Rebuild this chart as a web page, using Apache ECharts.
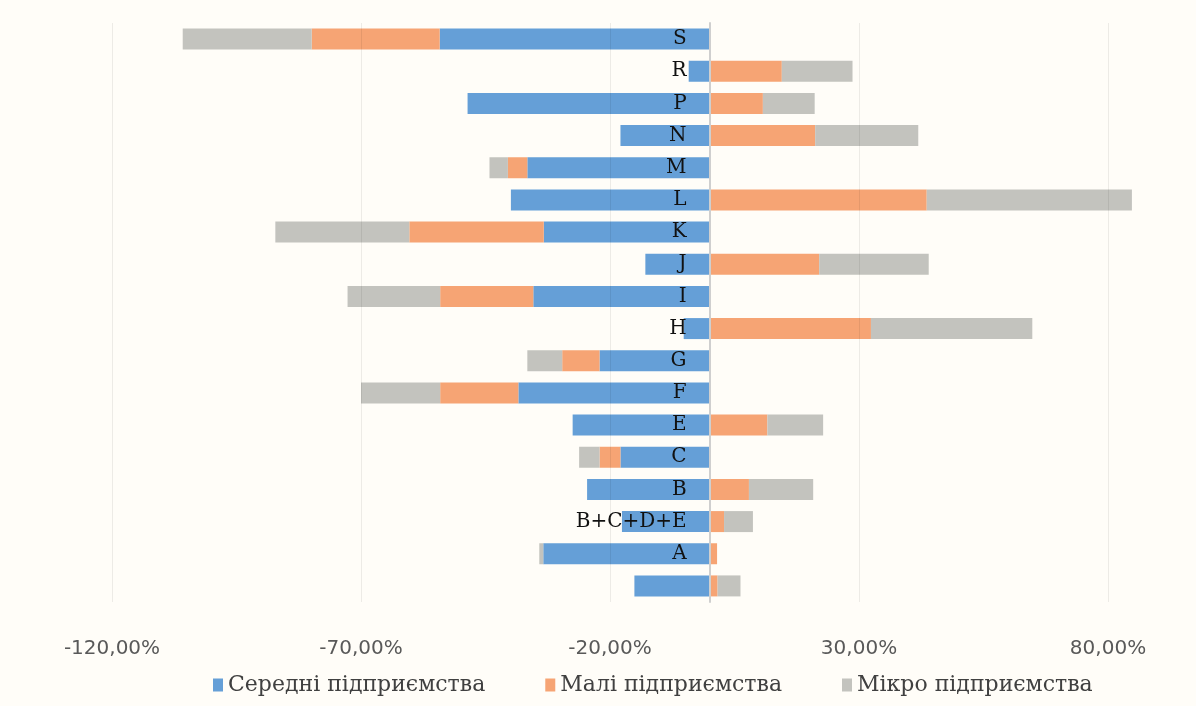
<!DOCTYPE html>
<html lang="uk">
<head>
    <meta charset="UTF-8">
    <title>Підприємства</title>
    <script src="https://cdn.jsdelivr.net/npm/echarts@6/dist/echarts.min.js"></script>
    <style>
        html, body { margin: 0; padding: 0; background: #fffdf8; }
        #main { width: 1196px; height: 706px; }
    </style>
</head>
<body>
    <div id="main"></div>
    <script>
        // категорії зверху вниз
        var categories = ['S', 'R', 'P', 'N', 'M', 'L', 'K', 'J', 'I', 'H', 'G', 'F', 'E', 'C', 'B', 'B+C+D+E', 'A', ''];
        var seriesNames = ['Середні підприємства', 'Малі підприємства', 'Мікро підприємства'];
        // значення у відсотках
        var medium = [-54.2, -4.2, -48.6, -17.9, -36.6, -39.9, -33.3, -12.9, -35.4, -5.2, -22.1, -38.4, -27.5, -17.9, -24.6, -17.6, -33.4, -15.1];
        var small = [-25.7, 14.5, 10.7, 21.2, -3.9, 43.6, -27.0, 22.0, -18.7, 32.4, -7.5, -15.7, 11.6, -4.2, 7.9, 2.9, 1.5, 1.6];
        var micro = [-25.9, 14.2, 10.4, 20.7, -3.7, 41.2, -26.9, 22.0, -18.6, 32.4, -7.0, -15.9, 11.2, -4.1, 12.9, 5.8, -0.8, 4.6];
        var colors = ['#659fd7', '#f6a474', '#c3c3be'];

        var chart = echarts.init(document.getElementById('main'));

        // сітка: ліво 112, ширина 996, нуль на 60% ширини
        var gridLeft = 112, gridRight = 88;
        var zeroOffset = (1196 - gridLeft - gridRight) * 0.6;

        function makeSeries(name, data, color) {
            return {
                name: name,
                type: 'bar',
                stack: 'total',
                barWidth: 21,
                clip: false,
                itemStyle: { color: color },
                data: data
            };
        }

        var option = {
            backgroundColor: '#fffdf8',
            animation: false,
            grid: { left: gridLeft, right: gridRight, top: 23, bottom: 104, outerBoundsMode: 'none', containLabel: false },
            legend: {
                left: 208,
                bottom: 5,
                itemWidth: 10,
                itemHeight: 13,
                itemGap: 60,
                icon: 'rect',
                textStyle: { fontFamily: '"DejaVu Serif", serif', fontSize: 22, color: '#404040' },
                data: seriesNames
            },
            xAxis: {
                type: 'value',
                min: -120,
                max: 80,
                interval: 50,
                z: 3,
                axisLine: { show: false },
                axisTick: { show: false },
                splitLine: { lineStyle: { color: 'rgba(0,0,0,0.07)', width: 1 } },
                axisLabel: {
                    margin: 37,
                    fontFamily: 'DejaVu Sans',
                    fontSize: 20,
                    color: '#595959',
                    formatter: function (v) { return v.toFixed(2).replace('.', ',') + '%'; }
                }
            },
            yAxis: {
                type: 'category',
                inverse: true,
                data: categories,
                z: 5,
                offset: -zeroOffset,
                axisLine: { onZero: false, lineStyle: { color: '#cfcfcf', width: 2 } },
                axisTick: { show: false },
                axisLabel: {
                    margin: 23,
                    fontFamily: 'DejaVu Serif',
                    fontSize: 20,
                    color: '#111'
                }
            },
            series: [
                makeSeries(seriesNames[0], medium, colors[0]),
                makeSeries(seriesNames[1], small, colors[1]),
                makeSeries(seriesNames[2], micro, colors[2])
            ]
        };

        chart.setOption(option);
    </script>
</body>
</html>
